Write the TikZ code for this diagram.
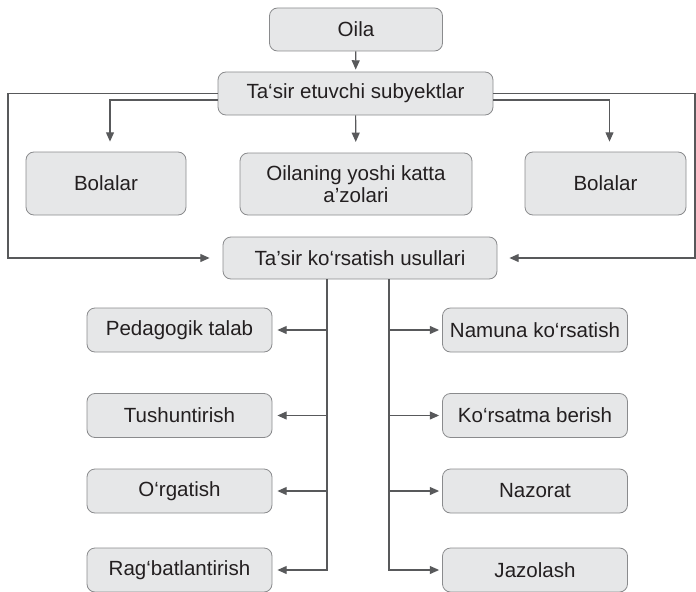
\documentclass[tikz,border=0pt]{standalone}
\usepackage{fontspec}
\setmainfont{Liberation Sans}
\usepackage{xcolor}
\usepackage{tikz}
\usetikzlibrary{arrows.meta}
\definecolor{boxfill}{HTML}{E6E7E8}
\definecolor{boxline}{HTML}{8A8B8D}
\definecolor{lineclr}{HTML}{58595B}
\definecolor{textclr}{HTML}{231F20}
\tikzstyle{blok}=[draw=boxline, fill=boxfill, rounded corners=6pt, line width=0.6pt, align=center, inner sep=0pt, text=textclr, font=\fontsize{15.4}{16}\selectfont]
\tikzstyle{usul}=[blok, minimum width=138.75pt, minimum height=33pt]
\tikzstyle{strelka}=[draw=lineclr, line width=0.9pt, -{Triangle[length=7pt,width=6pt]}]
\tikzstyle{chiziq}=[draw=lineclr, line width=0.9pt]

\begin{document}
\begin{tikzpicture}[x=0.75pt, y=-0.75pt]
        \useasboundingbox (0,0) rectangle (696,592);
        % yuqori qism
        \node[blok, minimum width=129.75pt, minimum height=32.25pt] (oila) at (356,29.5) {Oila};
        \node[blok, minimum width=206.25pt, minimum height=32.25pt] (tes) at (355.5,93.5) {Ta‘sir etuvchi subyektlar};
        \node[blok, minimum width=120pt, minimum height=47.25pt] (bol1) at (106,183.5) {Bolalar};
        \node[blok, minimum width=174pt, minimum height=46.5pt] (katta) at (356,184) {Oilaning yoshi katta\\a’zolari};
        \node[blok, minimum width=120.75pt, minimum height=47.25pt] (bol2) at (605.5,183.5) {Bolalar};
        \node[blok, minimum width=205.5pt, minimum height=31.5pt] (tku) at (360,258) {Ta’sir ko‘rsatish usullari};
        % usullar
        \node[usul] (ped) at (179.5,330) {Pedagogik talab};
        \node[usul] (tush) at (179.5,415.5) {Tushuntirish};
        \node[usul] (org) at (179.5,491) {O‘rgatish};
        \node[usul] (rag) at (179.5,570) {Rag‘batlantirish};
        \node[usul] (nam) at (535,330) {Namuna ko‘rsatish};
        \node[usul] (kor) at (535,415.5) {Ko‘rsatma berish};
        \node[usul] (naz) at (535,491) {Nazorat};
        \node[usul] (jaz) at (535,570) {Jazolash};
        \coordinate (chap) at (8,93.5);
        \coordinate (ong) at (695,93.5);
        \coordinate (ltr) at (327,279);
        \coordinate (rtr) at (389,279);
        % strelkalar
        \draw[strelka, shorten >=1.5pt] (oila) -- (tes);
        \draw[strelka, shorten >=8pt] (tes) -- (katta);
        \draw[strelka, shorten >=7.5pt] (tes.west |- 0,100) -| ([xshift=3pt]bol1.north);
        \draw[strelka, shorten >=7.5pt] (tes.east |- 0,100) -| ([xshift=3pt]bol2.north);
        \draw[strelka, shorten >=9.75pt] (tes.west) -- (chap) |- (tku.west);
        \draw[strelka, shorten >=9pt] (tes.east) -- (ong) |- (tku.east);
        \draw[strelka, shorten >=3.75pt] (ltr) |- (rag.east);
        \draw[strelka, shorten >=2.25pt] (rtr) |- (jaz.east -| jaz.west);
        \foreach \n in {ped,tush,org}
            \draw[strelka, shorten >=3.75pt] (\n.east -| ltr) -- (\n.east);
        \foreach \n in {nam,kor,naz}
            \draw[strelka, shorten >=2.25pt] (\n.west -| rtr) -- (\n.west);
    \end{tikzpicture}
\end{document}
